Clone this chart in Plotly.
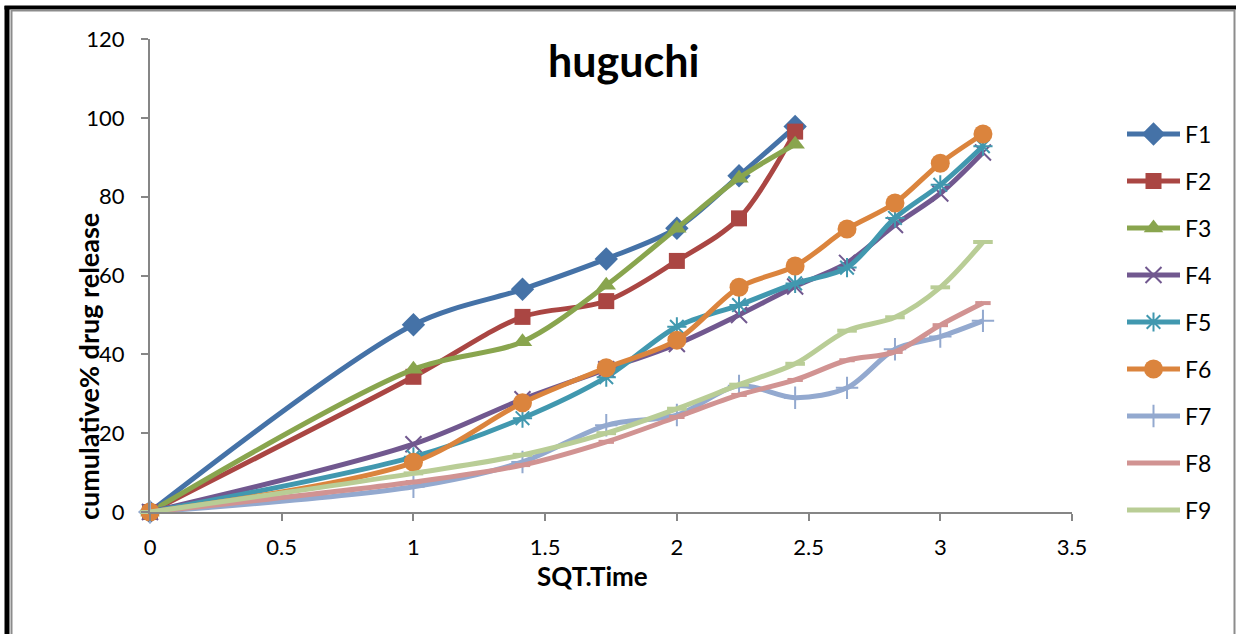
import plotly.graph_objects as go

# Square root of time (x) and cumulative % drug release for each formulation
sqrt_time = [0, 1, 1.414, 1.732, 2, 2.236, 2.449, 2.646, 2.828, 3, 3.162]

series_names = ["F1", "F2", "F3", "F4", "F5", "F6", "F7", "F8", "F9"]

f1 = [0, 47.5, 56.5, 64.2, 72.0, 85.3, 97.8]
f2 = [0, 34.3, 49.5, 53.5, 63.7, 74.5, 96.5]
f3 = [0, 36.2, 43.2, 57.5, 72.0, 84.7, 93.3]
f4 = [0, 17.2, 28.6, 36.2, 42.6, 50.0, 57.2, 63.2, 72.8, 80.8, 91.2]
f5 = [0, 14.0, 23.8, 34.2, 47.0, 52.5, 58.0, 62.0, 74.6, 83.0, 92.8]
f6 = [0, 12.6, 27.7, 36.6, 43.6, 57.0, 62.4, 71.8, 78.4, 88.5, 95.9]
f7 = [0, 6.4, 12.7, 22.0, 24.6, 32.0, 29.0, 31.5, 41.3, 44.5, 48.5]
f8 = [0, 7.6, 11.9, 17.8, 24.1, 29.7, 33.5, 38.5, 40.6, 47.4, 53.0]
f9 = [0, 9.8, 14.5, 20.0, 26.2, 32.3, 37.6, 46.0, 49.4, 57.0, 68.5]

x_ticks = [0, 0.5, 1, 1.5, 2, 2.5, 3, 3.5]
y_ticks = [0, 20, 40, 60, 80, 100, 120]

release = [f1, f2, f3, f4, f5, f6, f7, f8, f9]

colors = ["#4572A7", "#AA4643", "#89A54E", "#71588F", "#4198AF",
          "#DB843D", "#93A9CF", "#D19392", "#B9CD96"]
symbols = ["diamond", "square", "triangle-up", "x-thin-open", "asterisk-open",
           "circle", "cross-thin-open", "line-ew-open", "line-ew-open"]
sizes = [18, 16, 17, 16, 16, 19, 16, 11, 14]

W, H = 1236, 634
PL, PR, PT, PB = 150, 1072, 39, 512  # plot area in page pixels

FONT = "Lato"
AXIS_GREY = "#868686"

fig = go.Figure()


def marker_style(i, size):
    sym = symbols[i]
    if sym.endswith("-open"):
        lw = 4 if sym.startswith("line") else 2
        return dict(symbol=sym, size=size, color=colors[i],
                    line=dict(color=colors[i], width=lw))
    return dict(symbol=sym, size=size, color=colors[i],
                line=dict(width=0))


for i, (name, ys) in enumerate(zip(series_names, release)):
    fig.add_trace(go.Scatter(
        x=sqrt_time[:len(ys)], y=ys, name=name,
        mode="lines+markers",
        line=dict(color=colors[i], width=5, shape="spline", smoothing=0.9),
        marker=marker_style(i, sizes[i]),
        cliponaxis=False, showlegend=False,
        xaxis="x", yaxis="y",
    ))

# Legend drawn on a page-pixel axis pair spanning the whole page
LEG_X0, LEG_X1, LEG_Y0, LEG_DY = 1127, 1180, 134, 47
for i, name in enumerate(series_names):
    yy = LEG_Y0 + LEG_DY * i
    fig.add_trace(go.Scatter(
        x=[LEG_X0, LEG_X1], y=[yy, yy], mode="lines",
        line=dict(color=colors[i], width=5),
        showlegend=False, hoverinfo="skip", xaxis="x2", yaxis="y2",
    ))
    fig.add_trace(go.Scatter(
        x=[(LEG_X0 + LEG_X1) / 2], y=[yy], mode="markers",
        marker=marker_style(i, sizes[i]),
        showlegend=False, hoverinfo="skip", xaxis="x2", yaxis="y2",
    ))
    fig.add_annotation(x=LEG_X1 + 3, y=yy, xref="x2", yref="y2",
                       text=name, showarrow=False, xanchor="left",
                       yanchor="middle",
                       font=dict(family=FONT, size=23, color="black"))

# Title and axis titles
fig.add_annotation(x=623, y=60, xref="x2", yref="y2", text="<b>huguchi</b>",
                   showarrow=False, xanchor="center", yanchor="middle",
                   font=dict(family=FONT, size=43, color="black"))
fig.add_annotation(x=592, y=576, xref="x2", yref="y2", text="<b>SQT.Time</b>",
                   showarrow=False, xanchor="center", yanchor="middle",
                   font=dict(family=FONT, size=26, color="black"))
fig.add_annotation(x=88, y=367, xref="x2", yref="y2",
                   text="<b>cumulative% drug release</b>", textangle=-90,
                   showarrow=False, xanchor="center", yanchor="middle",
                   font=dict(family=FONT, size=27, color="black"))

# Outer frame
frame = [
    dict(x0=7, y0=6, x1=7, y1=H, color="black", width=5),
    dict(x0=4.5, y0=7.5, x1=W, y1=7.5, color="black", width=4),
    dict(x0=11.5, y0=10, x1=11.5, y1=H, color="#8c8c8c", width=2),
    dict(x0=11, y0=10.5, x1=1234, y1=10.5, color="#8c8c8c", width=2),
    dict(x0=1234.5, y0=10, x1=1234.5, y1=H, color="#8c8c8c", width=2),
]
for f in frame:
    fig.add_shape(type="line", xref="x2", yref="y2",
                  x0=f["x0"], y0=f["y0"], x1=f["x1"], y1=f["y1"],
                  line=dict(color=f["color"], width=f["width"]))

fig.update_layout(
    width=W, height=H,
    margin=dict(l=0, r=0, t=0, b=0, autoexpand=False),
    paper_bgcolor="white", plot_bgcolor="rgba(0,0,0,0)",
    showlegend=False,
    xaxis=dict(domain=[PL / W, PR / W], range=[0, 3.5],
               tickvals=x_ticks, ticktext=[f"{v:g}" for v in x_ticks],
               showgrid=False, zeroline=False, automargin=False,
               showline=True, linecolor=AXIS_GREY, linewidth=2,
               ticks="outside", ticklen=7, tickwidth=2, tickcolor=AXIS_GREY,
               ticklabelstandoff=8,
               tickfont=dict(family=FONT, size=22, color="black"),
               anchor="y"),
    yaxis=dict(domain=[(H - PB) / H, (H - PT) / H], range=[0, 120],
               tickvals=y_ticks,
               showgrid=False, zeroline=False, automargin=False,
               showline=True, linecolor=AXIS_GREY, linewidth=2,
               ticks="outside", ticklen=7, tickwidth=2, tickcolor=AXIS_GREY,
               ticklabelstandoff=12,
               tickfont=dict(family=FONT, size=22, color="black"),
               anchor="x"),
    xaxis2=dict(domain=[0, 1], range=[0, W], visible=False,
                anchor="y2", fixedrange=True, automargin=False),
    yaxis2=dict(domain=[0, 1], range=[H, 0], visible=False,
                anchor="x2", fixedrange=True, automargin=False),
)

fig.write_html("out.html")
